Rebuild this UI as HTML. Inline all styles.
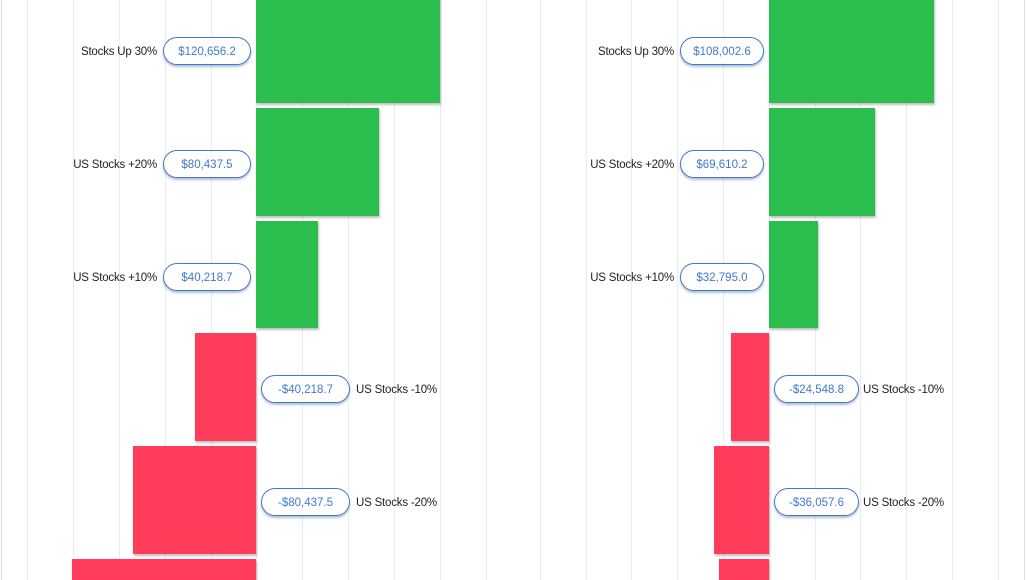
<!DOCTYPE html>
<html><head><meta charset="utf-8"><style>
html,body{margin:0;width:1026px;height:580px;overflow:hidden;background:#fff;font-family:"Liberation Sans",sans-serif}
body{position:relative}
.g{position:absolute;top:0;height:580px;width:1px;background:#ebebeb}
.b{position:absolute;box-shadow:1px 2px 2px rgba(0,0,0,.25)}
.gr{background:#2bbd4d}.rd{background:#ff3d5a}
.p{position:absolute;height:26px;border:1px solid #3f7ad0;border-radius:14px;background:#fff;color:#3f7ad0;font-size:11.5px;line-height:28px;text-align:center;box-shadow:0 2px 2px rgba(40,70,130,.35)}
.l{position:absolute;font-size:11.5px;letter-spacing:-0.2px;color:#222;line-height:30px;white-space:nowrap}
.r{text-align:right}
</style></head><body>
<div class="g" style="left:1px;background:#ddd"></div>
<div class="g" style="left:27px"></div><div class="g" style="left:73px"></div><div class="g" style="left:119px"></div><div class="g" style="left:165px"></div><div class="g" style="left:211px"></div><div class="g" style="left:256px"></div><div class="g" style="left:302px"></div><div class="g" style="left:348px"></div><div class="g" style="left:394px"></div><div class="g" style="left:440px"></div><div class="g" style="left:486px"></div>
<div class="g" style="left:540px"></div><div class="g" style="left:586px"></div><div class="g" style="left:631px"></div><div class="g" style="left:677px"></div><div class="g" style="left:723px"></div><div class="g" style="left:769px"></div><div class="g" style="left:815px"></div><div class="g" style="left:860px"></div><div class="g" style="left:906px"></div><div class="g" style="left:952px"></div><div class="g" style="left:998px"></div><div class="g" style="left:1024px;background:#ddd"></div>

<div class="b gr" style="left:256px;top:-10px;width:184px;height:113px"></div>
<div class="b gr" style="left:256px;top:108px;width:123px;height:108px"></div>
<div class="b gr" style="left:256px;top:221px;width:62px;height:107px"></div>
<div class="b rd" style="left:195px;top:333px;width:61px;height:108px"></div>
<div class="b rd" style="left:133px;top:446px;width:123px;height:108px"></div>
<div class="b rd" style="left:72px;top:559px;width:184px;height:21px"></div>

<div class="b gr" style="left:769px;top:-10px;width:165px;height:113px"></div>
<div class="b gr" style="left:769px;top:108px;width:106px;height:108px"></div>
<div class="b gr" style="left:769px;top:221px;width:49px;height:107px"></div>
<div class="b rd" style="left:731px;top:333px;width:38px;height:108px"></div>
<div class="b rd" style="left:714px;top:446px;width:55px;height:108px"></div>
<div class="b rd" style="left:719px;top:559px;width:50px;height:21px"></div>

<div class="l r" style="right:869px;top:37px">Stocks Up 30%</div>
<div class="p" style="left:163px;top:37px;width:86px">$120,656.2</div>
<div class="l r" style="right:869px;top:150px">US Stocks +20%</div>
<div class="p" style="left:163px;top:150px;width:86px">$80,437.5</div>
<div class="l r" style="right:869px;top:263px">US Stocks +10%</div>
<div class="p" style="left:163px;top:263px;width:86px">$40,218.7</div>
<div class="p" style="left:261px;top:375px;width:87px">-$40,218.7</div>
<div class="l" style="left:356px;top:375px">US Stocks -10%</div>
<div class="p" style="left:261px;top:488px;width:87px">-$80,437.5</div>
<div class="l" style="left:356px;top:488px">US Stocks -20%</div>

<div class="l r" style="right:352px;top:37px">Stocks Up 30%</div>
<div class="p" style="left:680px;top:37px;width:82px">$108,002.6</div>
<div class="l r" style="right:352px;top:150px">US Stocks +20%</div>
<div class="p" style="left:680px;top:150px;width:82px">$69,610.2</div>
<div class="l r" style="right:352px;top:263px">US Stocks +10%</div>
<div class="p" style="left:680px;top:263px;width:82px">$32,795.0</div>
<div class="p" style="left:774px;top:375px;width:83px">-$24,548.8</div>
<div class="l" style="left:863px;top:375px">US Stocks -10%</div>
<div class="p" style="left:774px;top:488px;width:83px">-$36,057.6</div>
<div class="l" style="left:863px;top:488px">US Stocks -20%</div>
</body></html>
